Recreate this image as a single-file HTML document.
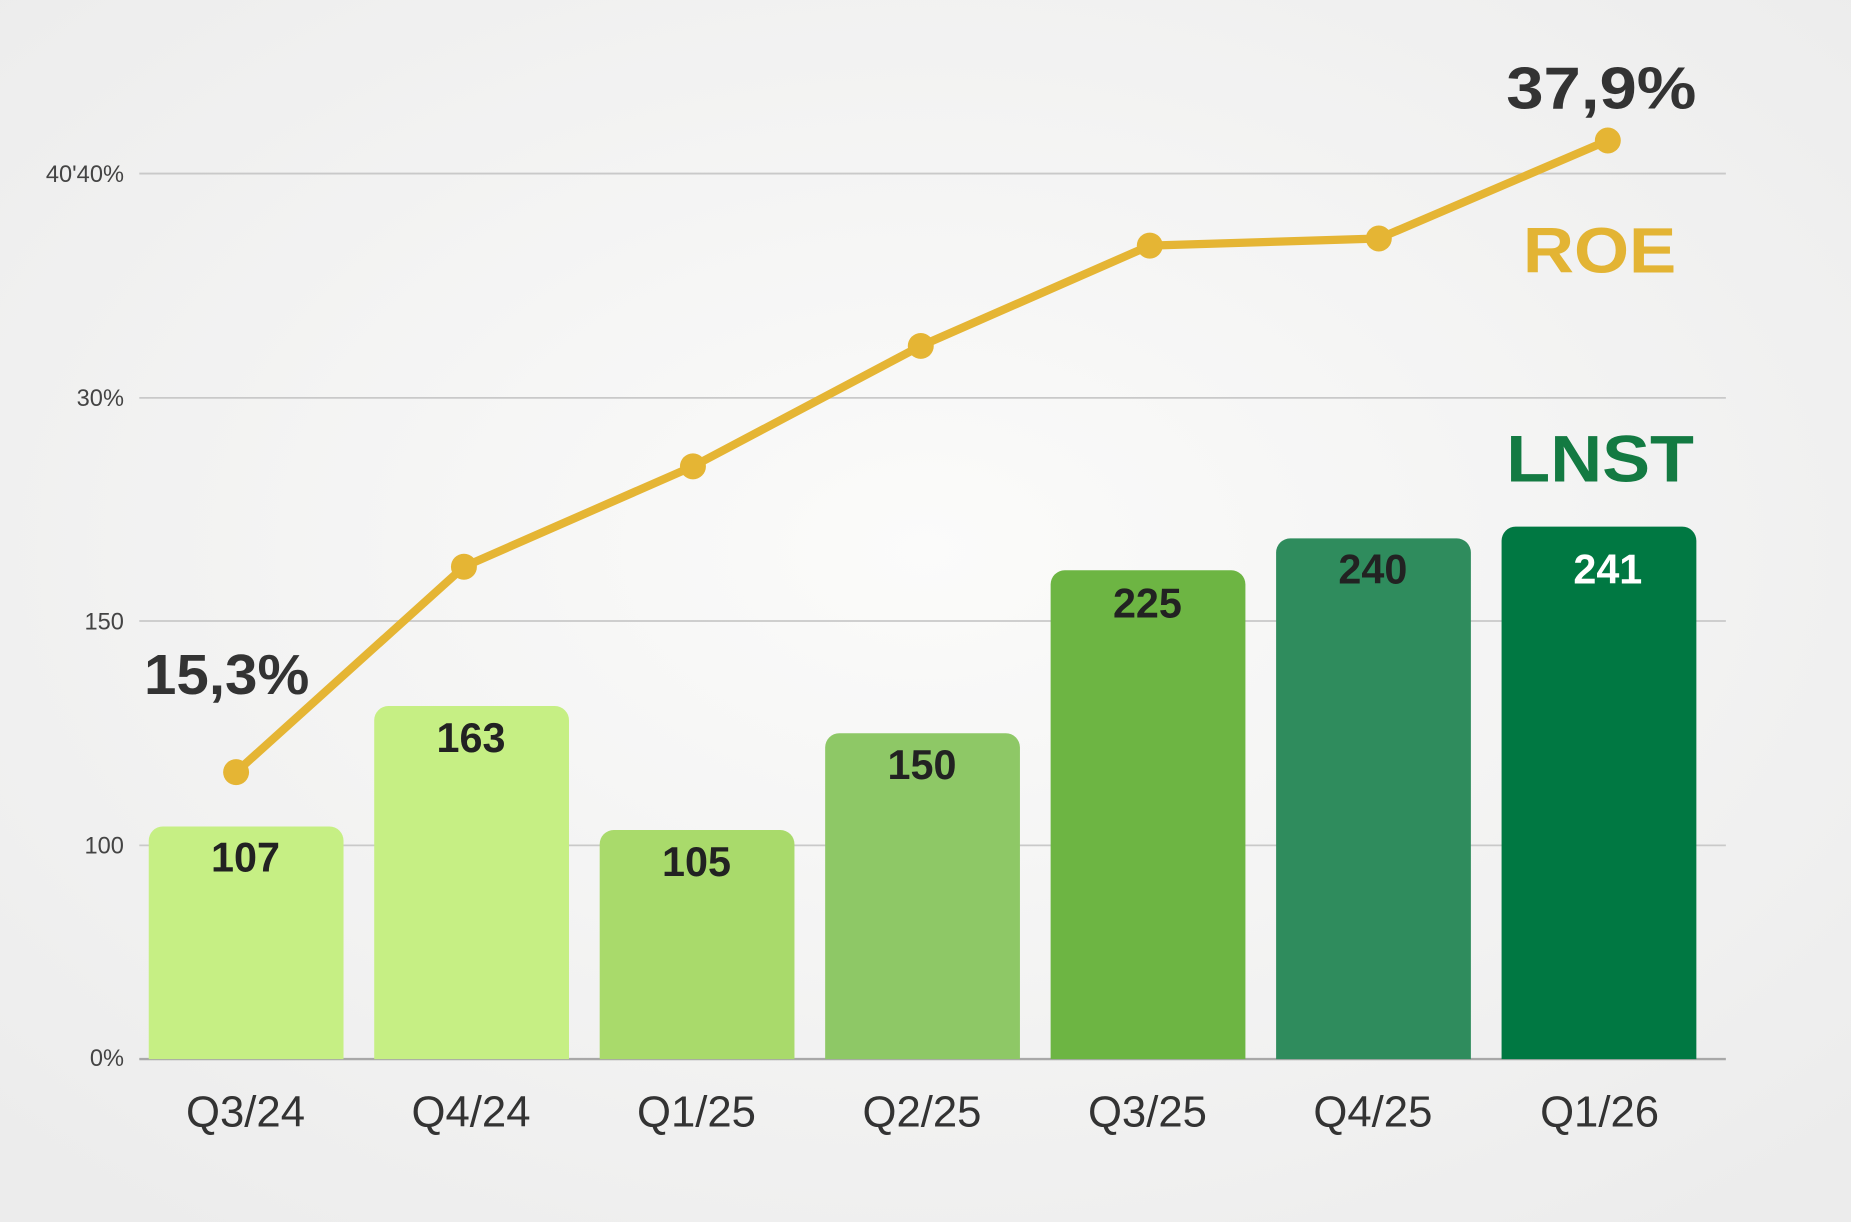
<!DOCTYPE html>
<html><head><style>
html,body{margin:0;padding:0;width:1851px;height:1222px;overflow:hidden;background:#f1f1f1;}
svg{display:block}
</style></head><body>
<svg width="1851" height="1222" viewBox="0 0 1568 1035" preserveAspectRatio="none" font-family="Liberation Sans, sans-serif">
<defs>
<radialGradient id="bg" cx="50%" cy="45%" r="70%">
<stop offset="0" stop-color="#fbfbfa"/><stop offset="1" stop-color="#ececec"/>
</radialGradient>
</defs>
<rect width="1568" height="1035" fill="url(#bg)"/>
<g stroke="#c9c9c9" stroke-width="1.5">
<line x1="118" y1="147" x2="1462" y2="147"/>
<line x1="118" y1="337" x2="1462" y2="337"/>
<line x1="118" y1="526" x2="1462" y2="526"/>
<line x1="118" y1="716" x2="1462" y2="716"/>
</g>
<line x1="118" y1="897" x2="1462" y2="897" stroke="#a8a8a8" stroke-width="2"/>
<g font-size="20" fill="#444" text-anchor="end">
<text x="105" y="154">40'40%</text>
<text x="105" y="344">30%</text>
<text x="105" y="533">150</text>
<text x="105" y="723">100</text>
<text x="105" y="903">0%</text>
</g>
<g>
<path d="M126 897V712a12 12 0 0 1 12-12H279a12 12 0 0 1 12 12V897Z" fill="#c6ef84"/>
<path d="M317 897V610a12 12 0 0 1 12-12H470a12 12 0 0 1 12 12V897Z" fill="#c6ef84"/>
<path d="M508 897V715a12 12 0 0 1 12-12H661a12 12 0 0 1 12 12V897Z" fill="#a9da6b"/>
<path d="M699 897V633a12 12 0 0 1 12-12H852a12 12 0 0 1 12 12V897Z" fill="#8ec866"/>
<path d="M890 897V495a12 12 0 0 1 12-12H1043a12 12 0 0 1 12 12V897Z" fill="#6db543"/>
<path d="M1081 897V468a12 12 0 0 1 12-12H1234a12 12 0 0 1 12 12V897Z" fill="#2f8c5d"/>
<path d="M1272 897V458a12 12 0 0 1 12-12H1425a12 12 0 0 1 12 12V897Z" fill="#007842"/>
</g>
<g font-size="35" font-weight="bold" fill="#222" text-anchor="middle">
<text x="208" y="738">107</text>
<text x="399" y="637">163</text>
<text x="590" y="742">105</text>
<text x="781" y="660">150</text>
<text x="972" y="523">225</text>
<text x="1163" y="494">240</text>
<text x="1362" y="494" fill="#fff">241</text>
</g>
<polyline points="200,654 393,480 587,395 780,293 974,208 1168,202 1362,119" fill="none" stroke="#e5b534" stroke-width="7" stroke-linejoin="round"/>
<g fill="#e5b534">
<circle cx="200" cy="654" r="11"/><circle cx="393" cy="480" r="11"/><circle cx="587" cy="395" r="11"/>
<circle cx="780" cy="293" r="11"/><circle cx="974" cy="208" r="11"/><circle cx="1168" cy="202" r="11"/><circle cx="1362" cy="119" r="11"/>
</g>
<g font-weight="bold">
<text x="122" y="588" font-size="48" fill="#333" textLength="140" lengthAdjust="spacingAndGlyphs">15,3%</text>
<text x="1276" y="92" font-size="50" fill="#333" textLength="161" lengthAdjust="spacingAndGlyphs">37,9%</text>
<text x="1290" y="231" font-size="54" fill="#e3b434" textLength="130" lengthAdjust="spacingAndGlyphs">ROE</text>
<text x="1276" y="408" font-size="56" fill="#137a42" textLength="159" lengthAdjust="spacingAndGlyphs">LNST</text>
</g>
<g font-size="37" fill="#333" text-anchor="middle">
<text x="208" y="954">Q3/24</text>
<text x="399" y="954">Q4/24</text>
<text x="590" y="954">Q1/25</text>
<text x="781" y="954">Q2/25</text>
<text x="972" y="954">Q3/25</text>
<text x="1163" y="954">Q4/25</text>
<text x="1355" y="954">Q1/26</text>
</g>
</svg>
</body></html>
